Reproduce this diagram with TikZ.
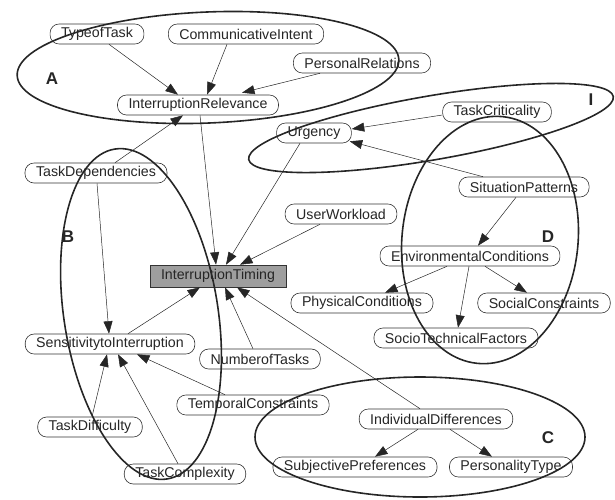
\documentclass[tikz,border=0pt]{standalone}
\usepackage{fontspec}
\setmainfont{Liberation Sans}
\usetikzlibrary{arrows.meta}
\begin{document}
\begin{tikzpicture}[x=1pt,y=1pt,
 nd/.style={draw=black!80, line width=0.6pt, rounded corners=9pt, inner xsep=11pt, inner ysep=0pt, minimum height=20pt, font=\fontsize{14.2}{16}\selectfont, text=black!85, fill=white},
 tbox/.style={nd, rounded corners=0pt, fill=black!38, minimum height=22pt},
 ed/.style={-{Triangle[length=12.5pt,width=9pt]}, line width=0.5pt, draw=black!85},
 grp/.style={line width=1.6pt, draw=black!85},
 lab/.style={font=\fontsize{17}{18}\selectfont\bfseries, text=black!85, inner sep=0pt}]
\useasboundingbox (0,0) rectangle (615,-499);
% nodes
\node[nd] (tt)  at (97,-34)  {TypeofTask};
\node[nd] (ci)  at (246,-34) {CommunicativeIntent};
\node[nd] (pr)  at (362,-63) {PersonalRelations};
\node[nd] (ir)  at (198,-105) {InterruptionRelevance};
\node[nd] (td)  at (96,-173) {TaskDependencies};
\node[nd] (urg) at (314,-133) {Urgency};
\node[nd] (tc)  at (497,-112) {TaskCriticality};
\node[nd] (sp)  at (524,-187) {SituationPatterns};
\node[nd] (uw)  at (341,-214) {UserWorkload};
\node[nd] (ec)  at (470,-256) {EnvironmentalConditions};
\node[nd] (pc)  at (362,-303) {PhysicalConditions};
\node[nd] (sc)  at (544,-303) {SocialConstraints};
\node[nd] (stf) at (456,-338) {SocioTechnicalFactors};
\node[tbox] (it) at (218,-276) {InterruptionTiming};
\node[nd] (si)  at (110,-344) {SensitivitytoInterruption};
\node[nd] (nt)  at (260,-359) {NumberofTasks};
\node[nd] (tmp) at (253,-405) {TemporalConstraints};
\node[nd] (tdf) at (90,-427) {TaskDifficulty};
\node[nd] (tcx) at (185,-474) {TaskComplexity};
\node[nd] (id)  at (436,-419) {IndividualDifferences};
\node[nd] (sbp) at (355,-467) {SubjectivePreferences};
\node[nd] (pt)  at (511,-467) {PersonalityType};
% edges
\draw[ed] ([xshift=12pt]tt.south) -- ([xshift=-20pt]ir.north);
\draw[ed] ([xshift=-19pt]ci.south) -- ([xshift=9pt]ir.north);
\draw[ed] ([xshift=-42pt]pr.south) -- ([xshift=44pt,yshift=2pt]ir.north);
\draw[ed] ([xshift=19pt]td.north) -- ([xshift=-15pt]ir.south);
\draw[ed] ([xshift=2pt]ir.south) -- ([xshift=-2pt]it.north);
\draw[ed] ([xshift=-14pt]urg.south) -- ([xshift=8pt]it.north);
\draw[ed] ([xshift=-21pt]uw.south) -- ([xshift=22pt]it.north);
\draw[ed] ([yshift=-3pt]tc.west) -- ([yshift=4pt]urg.east);
\draw[ed] ([xshift=-41pt]sp.north) -- ([xshift=-2pt,yshift=2pt]urg.south east);
\draw[ed] ([xshift=-8pt]sp.south) -- ([xshift=8pt]ec.north);
\draw[ed] ([xshift=-23pt]ec.south) -- ([xshift=23pt]pc.north);
\draw[ed] ([xshift=-1pt]ec.south) -- ([xshift=2pt]stf.north);
\draw[ed] ([xshift=15pt]ec.south) -- ([xshift=-17pt]sc.north);
\draw[ed] ([xshift=1pt]td.south) -- ([xshift=-1pt]si.north);
\draw[ed] ([xshift=18pt]si.north) -- ([xshift=-18pt]it.south);
\draw[ed] ([xshift=-7pt]nt.north) -- ([xshift=7pt]it.south);
\draw[ed] ([xshift=-16pt]id.north) -- ([xshift=19pt]it.south);
\draw[ed] ([xshift=-28pt]tmp.north) -- ([xshift=27pt]si.south);
\draw[ed] ([xshift=2pt]tdf.north) -- ([xshift=-3pt]si.south);
\draw[ed] ([xshift=-7pt]tcx.north) -- ([xshift=8pt]si.south);
\draw[ed] ([xshift=-18pt]id.south) -- ([xshift=20pt]sbp.north);
\draw[ed] ([xshift=14pt]id.south) -- ([xshift=-19pt]pt.north);
% group ellipses
\draw[grp, rotate around={2.4:(208,-67.5)}] (208,-67.5) ellipse [x radius=191, y radius=55.5];
\draw[grp, rotate around={9.8:(431,-128)}] (431,-128) ellipse [x radius=185, y radius=32];
\draw[grp, rotate around={9:(141,-314)}] (141,-314) ellipse [x radius=77, y radius=167];
\draw[grp, rotate around={-6:(490,-240)}] (490,-240) ellipse [x radius=88, y radius=124];
\draw[grp] (420,-437) ellipse [x radius=165, y radius=60];
% labels
\node[lab] (la) at (52,-79) {A};
\node[lab] (lb) at (68,-237) {B};
\node[lab] (ld) at (548,-237) {D};
\node[lab] (lc) at (548,-438) {C};
\node[lab] (li) at (591,-100) {I};
\end{tikzpicture}
\end{document}
